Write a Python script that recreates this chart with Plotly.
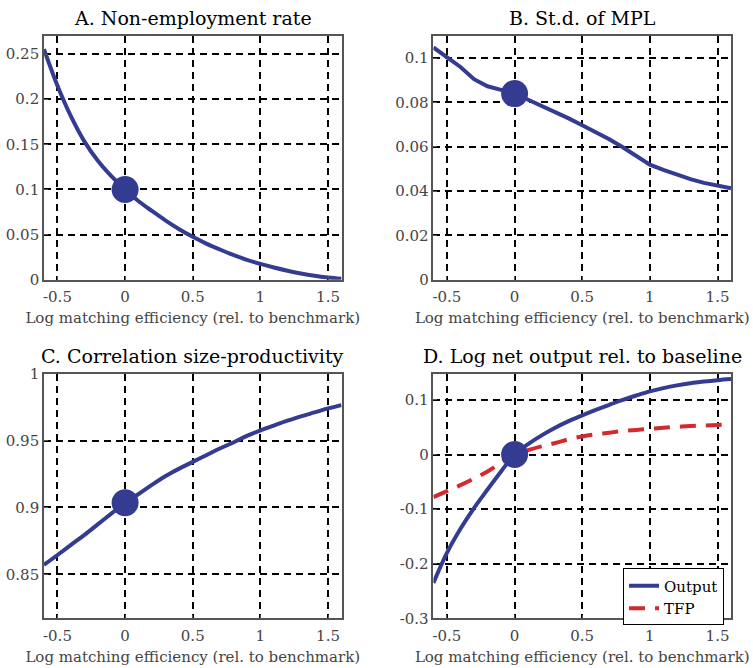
import plotly.graph_objects as go

# ---- data ----
x_grid = [-0.6, -0.5, -0.4, -0.3, -0.2, -0.1, 0.0, 0.1, 0.2, 0.3, 0.4, 0.5,
          0.6, 0.7, 0.8, 0.9, 1.0, 1.1, 1.2, 1.3, 1.4, 1.5, 1.6]
nonemp = [0.2555, 0.215, 0.181, 0.153, 0.1315, 0.1145, 0.100, 0.087, 0.076, 0.0655, 0.056, 0.0475,
          0.040, 0.0335, 0.0275, 0.022, 0.0175, 0.0135, 0.010, 0.007, 0.0045, 0.0025, 0.001]
std_mpl = [0.1048, 0.1003, 0.0960, 0.0905, 0.0873, 0.0857, 0.0840, 0.0812, 0.0785, 0.0757, 0.0728, 0.0697,
           0.0666, 0.0634, 0.0598, 0.0559, 0.0519, 0.0496, 0.0474, 0.0454, 0.0437, 0.0424, 0.0413]
corr_sp = [0.857, 0.8644, 0.872, 0.8795, 0.8875, 0.8955, 0.9035, 0.910, 0.917, 0.9235, 0.929, 0.934,
           0.939, 0.944, 0.9485, 0.9535, 0.9575, 0.9612, 0.9648, 0.968, 0.971, 0.974, 0.9765]
output = [-0.235, -0.180, -0.136, -0.098, -0.064, -0.031, 0.0, 0.019, 0.035, 0.049, 0.061, 0.0715,
          0.0815, 0.091, 0.100, 0.108, 0.1155, 0.1215, 0.1265, 0.1305, 0.1335, 0.136, 0.138]
tfp = [-0.078, -0.067, -0.056, -0.044, -0.031, -0.015, -0.001, 0.008, 0.015, 0.021, 0.028, 0.033,
       0.037, 0.040, 0.043, 0.045, 0.047, 0.049, 0.0505, 0.052, 0.053, 0.054, 0.055]

bench_x = [0.0]
bench_A = [0.100]
bench_B = [0.0840]
bench_C = [0.9035]
bench_D = [0.0]

x_ticks = [-0.5, 0, 0.5, 1, 1.5]
x_ticklabels = ["-0.5", "0", "0.5", "1", "1.5"]
yA_ticks = [0, 0.05, 0.1, 0.15, 0.2, 0.25]
yA_labels = ["0", "0.05", "0.1", "0.15", "0.2", "0.25"]
yB_ticks = [0, 0.02, 0.04, 0.06, 0.08, 0.1]
yB_labels = ["0", "0.02", "0.04", "0.06", "0.08", "0.1"]
yC_ticks = [0.85, 0.9, 0.95, 1]
yC_labels = ["0.85", "0.9", "0.95", "1"]
yD_ticks = [-0.3, -0.2, -0.1, 0, 0.1]
yD_labels = ["-0.3", "-0.2", "-0.1", "0", "0.1"]

titles = ["A. Non-employment rate", "B. St.d. of MPL",
          "C. Correlation size-productivity", "D. Log net output rel. to baseline"]
xlabel = "Log matching efficiency (rel. to benchmark)"

BLUE = "#343c92"
RED = "#d42a2e"
FONT = "'DejaVu Serif', 'Liberation Serif', serif"
W, H = 753, 668

fig = go.Figure()

panels = [
    (1, nonemp, bench_A, yA_ticks, yA_labels, [0, 0.27], "spline"),
    (2, std_mpl, bench_B, yB_ticks, yB_labels, [0, 0.11], "linear"),
    (3, corr_sp, bench_C, yC_ticks, yC_labels, [0.817, 1.0], "spline"),
    (4, output, bench_D, yD_ticks, yD_labels, [-0.3, 0.148], "spline"),
]

# target pixel boxes (left, right, top, bottom)
boxes = {1: (43, 341, 35, 279), 2: (433, 731, 35, 279),
         3: (43, 341, 373, 618), 4: (433, 731, 373, 618)}
title_y = {1: 17, 2: 17, 3: 355, 4: 355}

def fx(p):
    return p / W

def fy(p):
    q = (p - 8) / 0.974
    return 1 - q / H

for idx, yvals, bench, yt, yl, yr, shape in panels:
    sfx = "" if idx == 1 else str(idx)
    xa, ya = "x" + sfx, "y" + sfx
    fig.add_trace(go.Scatter(x=x_grid, y=yvals, mode="lines", xaxis=xa, yaxis=ya,
                             line=dict(color=BLUE, width=4, shape=shape), name="Output",
                             showlegend=(idx == 4)))
    if idx == 4:
        fig.add_trace(go.Scatter(x=x_grid, y=tfp, mode="lines", xaxis=xa, yaxis=ya,
                                 line=dict(color=RED, width=4, dash="16px,10px", shape="spline"),
                                 name="TFP", showlegend=True))
    fig.add_trace(go.Scatter(x=bench_x, y=bench, mode="markers", xaxis=xa, yaxis=ya,
                             marker=dict(color=BLUE, size=27), showlegend=False))
    l, r, t, b = boxes[idx]
    common = dict(showline=True, linecolor="#555555", linewidth=1.5, mirror=True,
                  showgrid=True, gridcolor="black", gridwidth=1.5, griddash="7px,5px",
                  zeroline=False, ticks="inside", ticklen=4, tickcolor="#555555",
                  tickfont=dict(family=FONT, size=15, color="#444444"))
    fig.layout["xaxis" + sfx] = dict(
        domain=[fx(l), fx(r)], anchor=ya, range=[-0.6, 1.6],
        tickmode="array", tickvals=x_ticks, ticktext=x_ticklabels, ticklabelstandoff=3,
        title=dict(text=xlabel, font=dict(family=FONT, size=15, color="#444444"), standoff=7),
        **common)
    fig.layout["yaxis" + sfx] = dict(
        domain=[fy(b), fy(t)], anchor=xa, range=yr,
        tickmode="array", tickvals=yt, ticktext=yl, **common)
    fig.add_annotation(text=titles[idx - 1], x=fx((l + r) / 2), y=fy(title_y[idx]),
                       xref="paper", yref="paper", xanchor="center", yanchor="middle",
                       showarrow=False, font=dict(family=FONT, size=19, color="black"))

fig.update_layout(
    width=W, height=H, margin=dict(l=0, r=0, t=0, b=0),
    plot_bgcolor="white", paper_bgcolor="white",
    legend=dict(x=fx(724), y=fy(568), xanchor="right", yanchor="top",
                bgcolor="white", bordercolor="black", borderwidth=1,
                font=dict(family=FONT, size=15, color="black"),
                tracegroupgap=0, itemwidth=30),
)

fig.write_html("out.html", config={"displayModeBar": False},
               post_script="document.body.style.margin='0';document.body.style.overflow='hidden';")
